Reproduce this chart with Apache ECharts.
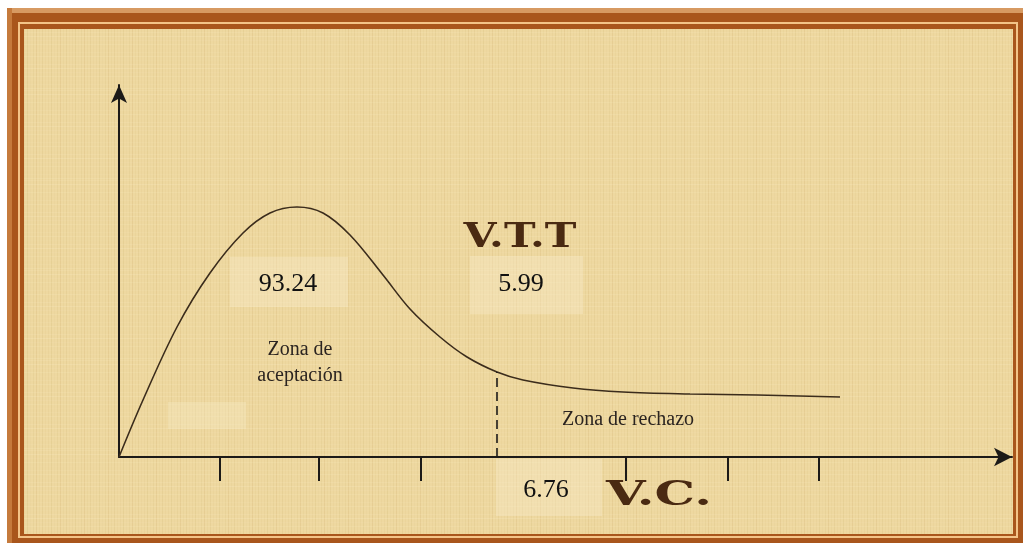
<!DOCTYPE html>
<html>
<head>
<meta charset="utf-8">
<script src="https://cdn.jsdelivr.net/npm/echarts@6/dist/echarts.min.js"></script>
<style>
  html, body { margin: 0; padding: 0; background: #fff; }
  #chart { width: 1025px; height: 546px; }
</style>
</head>
<body>
<div id="chart"></div>
<script>
// curve (x, y in axis units, 1 unit = 100px)
var curveX = [0, 0.24, 0.58, 0.91, 1.24, 1.51, 1.78, 2.04, 2.31, 2.64, 2.91, 3.21, 3.48, 3.78, 4.04, 4.54, 5.04, 5.71, 6.38, 7.21];
var curveY = [0, 0.57, 1.30, 1.84, 2.24, 2.44, 2.50, 2.44, 2.22, 1.82, 1.48, 1.20, 1.00, 0.85, 0.77, 0.69, 0.65, 0.63, 0.62, 0.60];
// x axis tick marks
var tickX = [1.01, 2.00, 3.02, 5.07, 6.09, 7.00];
// critical value line
var criticalX = 3.78;
var criticalY = 0.85;

// papyrus texture
function papyrus() {
  var c = document.createElement("canvas");
  c.width = 120; c.height = 90;
  var g = c.getContext("2d");
  g.fillStyle = "#eed8a0";
  g.fillRect(0, 0, 120, 90);
  var shades = [0.06, 0.1, 0.03, 0.08, 0.12, 0.05, 0.09, 0.04];
  for (var i = 0; i < 120; i += 3) {
    g.fillStyle = "rgba(170,135,60," + shades[(i / 3) % 8] + ")";
    g.fillRect(i, 0, 1, 90);
  }
  for (var j = 0; j < 90; j += 4) {
    g.fillStyle = "rgba(255,246,210," + shades[(j / 4 + 3) % 8] * 1.5 + ")";
    g.fillRect(0, j, 120, 1);
  }
  return c;
}

var myChart = echarts.init(document.getElementById("chart"));
var serif = "Liberation Serif";

myChart.setOption({
  backgroundColor: "#ffffff",
  animation: false,
  grid: { left: 119, right: 13, top: 85, bottom: 89 },
  xAxis: {
    type: "value",
    min: 0,
    max: 8.93,
    splitLine: { show: false },
    axisLabel: { show: false },
    axisLine: {
      onZero: false,
      symbol: ["none", "arrow"],
      symbolSize: [14, 18],
      lineStyle: { color: "#1c1a18", width: 2 }
    },
    axisTick: {
      show: true,
      customValues: tickX,
      length: 24,
      lineStyle: { color: "#1c1a18", width: 2 }
    }
  },
  yAxis: {
    type: "value",
    min: 0,
    max: 3.72,
    splitLine: { show: false },
    axisLabel: { show: false },
    axisTick: { show: false },
    axisLine: {
      show: true,
      onZero: false,
      symbol: ["none", "arrow"],
      symbolSize: [12, 18],
      lineStyle: { color: "#1c1a18", width: 2 }
    }
  },
  graphic: [
    // frame
    { type: "rect", z: -10, shape: { x: 7, y: 8, width: 1016, height: 535 }, style: { fill: "#a9561c" } },
    { type: "rect", z: -9, shape: { x: 7, y: 8, width: 1016, height: 5 }, style: { fill: "#d79a62" } },
    { type: "rect", z: -9, shape: { x: 7, y: 8, width: 5, height: 535 }, style: { fill: "#c57a3c" } },
    { type: "rect", z: -9, shape: { x: 19, y: 23, width: 998, height: 514 }, style: { fill: "none", stroke: "#f3c488", lineWidth: 2 } },
    { type: "rect", z: -8, shape: { x: 24, y: 29, width: 989, height: 505 }, style: { fill: { image: papyrus(), repeat: "repeat" } } },
    // pasted label boxes
    { type: "rect", z: -7, shape: { x: 230, y: 257, width: 118, height: 50 }, style: { fill: "rgba(250,238,205,0.35)" } },
    { type: "rect", z: -7, shape: { x: 470, y: 256, width: 113, height: 58 }, style: { fill: "rgba(250,238,205,0.35)" } },
    { type: "rect", z: -7, shape: { x: 496, y: 459, width: 106, height: 57 }, style: { fill: "rgba(250,238,205,0.35)" } },
    { type: "rect", z: -7, shape: { x: 168, y: 402, width: 78, height: 27 }, style: { fill: "rgba(250,238,205,0.3)" } },
    // texts
    { type: "text", x: 520, y: 238, scaleX: 1.25, style: { x: 0, y: 0, text: "V.T.T", fill: "#4a2a12", font: "bold 34px 'DejaVu Serif'", textAlign: "center", textVerticalAlign: "middle" } },
    { type: "text", x: 659, y: 496, scaleX: 1.5, style: { x: 0, y: 0, text: "V.C.", fill: "#4a2a12", font: "bold 34px 'DejaVu Serif'", textAlign: "center", textVerticalAlign: "middle" } },
    { type: "text", style: { x: 288, y: 284, text: "93.24", fill: "#111", font: "26px '" + serif + "'", textAlign: "center", textVerticalAlign: "middle" } },
    { type: "text", style: { x: 521, y: 284, text: "5.99", fill: "#111", font: "26px '" + serif + "'", textAlign: "center", textVerticalAlign: "middle" } },
    { type: "text", style: { x: 546, y: 490, text: "6.76", fill: "#111", font: "26px '" + serif + "'", textAlign: "center", textVerticalAlign: "middle" } },
    { type: "text", style: { x: 300, y: 350, text: "Zona de", fill: "#2b2420", font: "20px '" + serif + "'", textAlign: "center", textVerticalAlign: "middle" } },
    { type: "text", style: { x: 300, y: 376, text: "aceptación", fill: "#2b2420", font: "20px '" + serif + "'", textAlign: "center", textVerticalAlign: "middle" } },
    { type: "text", style: { x: 628, y: 420, text: "Zona de rechazo", fill: "#2b2420", font: "20px '" + serif + "'", textAlign: "center", textVerticalAlign: "middle" } }
  ],
  series: [
    {
      type: "line",
      data: curveX.map(function (x, i) { return [x, curveY[i]]; }),
      smooth: 0.35,
      showSymbol: false,
      lineStyle: { color: "#3b2c1c", width: 1.6 }
    },
    {
      type: "line",
      data: [[criticalX, 0], [criticalX, criticalY]],
      showSymbol: false,
      lineStyle: { color: "#1c1a18", width: 1.6, type: [9, 5] }
    }
  ]
});
</script>
</body>
</html>
